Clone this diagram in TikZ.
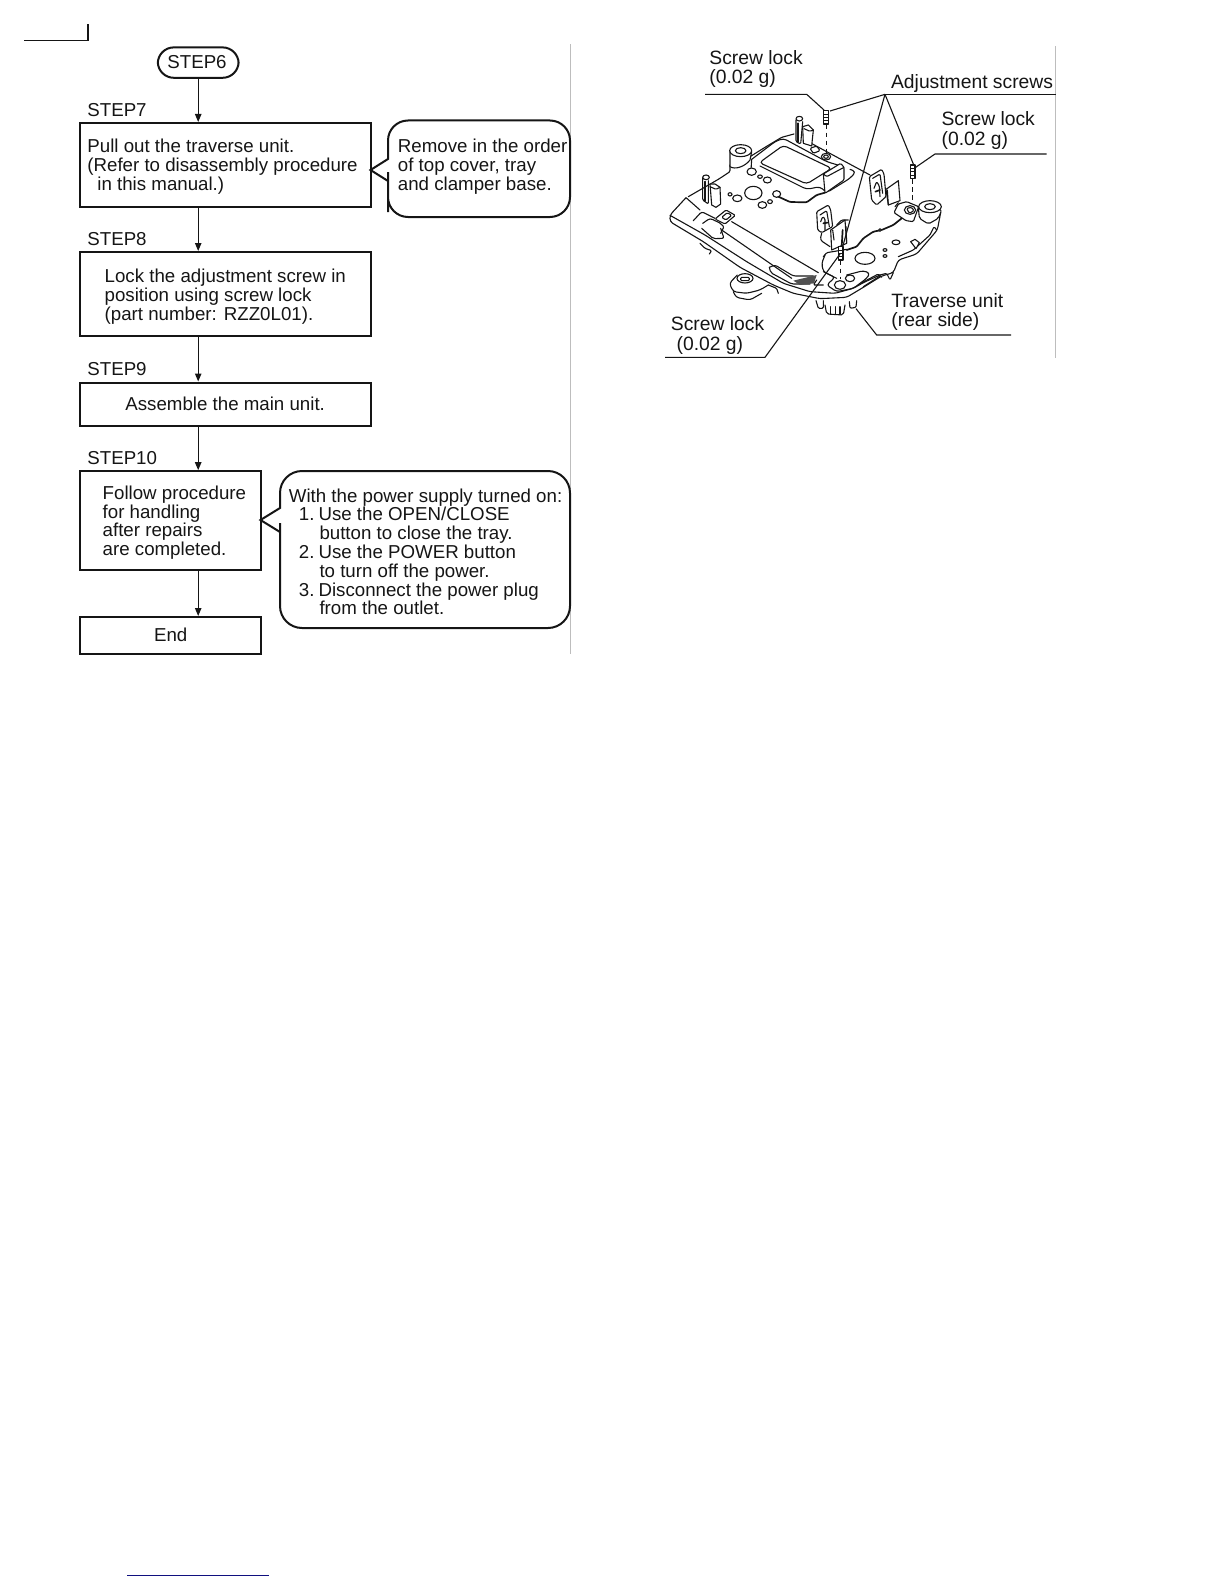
\documentclass[tikz,border=0pt]{standalone}
\usepackage{fontspec}
\setmainfont{Liberation Sans}
\usetikzlibrary{arrows.meta}
\definecolor{rule}{HTML}{BDBDBD}
\definecolor{ink}{HTML}{151515}
\definecolor{navyline}{HTML}{10107F}
\newcommand\ml[1]{\vtop{\baselineskip=9.4pt \lineskiplimit=-20pt \halign{##\hfil\cr#1\crcr}}}
\newcommand\litem[1]{\hspace*{5pt}\makebox[9.8pt][l]{#1}}
\newcommand\lcont{\hspace*{15.3pt}}
\tikzset{
  txt/.style={anchor=base west,inner sep=0pt,text=ink,font=\fontsize{9.35}{9.4}\selectfont},
  ltxt/.style={txt,font=\fontsize{9.65}{9.4}\selectfont},
  ctxt/.style={txt,anchor=base},
  boxa/.style={draw=ink,line width=1pt,anchor=north west,inner sep=0pt},
  pill/.style={draw=ink,line width=1pt,rounded corners=8pt,anchor=north west,inner sep=0pt},
  flow/.style={draw=ink,line width=.6pt,-{Triangle[length=4pt,width=3.2pt]}},
  callout/.style={draw=ink,line width=1pt,line join=miter},
  lead/.style={draw=ink,line width=.55pt},
  mech/.style={draw=ink,line width=.55pt,line join=round,line cap=round,fill=white},
  mline/.style={draw=ink,line width=.55pt,line join=round,line cap=round,rounded corners=.6pt},
  mthick/.style={draw=ink,line width=.85pt,line join=round,line cap=round,rounded corners=.6pt},
  dashline/.style={draw=ink,line width=.5pt,dash pattern=on 2.4pt off 1.6pt},
}
\begin{document}
\begin{tikzpicture}[x=.5pt,y=-.5pt]
\useasboundingbox (0,0) rectangle (1224,1584);
% page marks
\coordinate (m1) at (24,40.5); \coordinate (m2) at (88,40.5); \coordinate (m3) at (88,24.5);
\draw[draw=ink,line width=.55pt] (m1) -- (m2) -- (m3);
\coordinate (r1) at (570.5,44.5); \coordinate (r2) at (570.5,654);
\coordinate (r3) at (1055.5,46.5); \coordinate (r4) at (1055.5,357.5);
\draw[rule,line width=.6pt] (r1) -- (r2);
\draw[rule,line width=.6pt] (r3) -- (r4);
\coordinate (b1) at (127,1575.3); \coordinate (b2) at (269,1575.3);
\draw[navyline,line width=.75pt] (b1) -- (b2);

% flow boxes
\node[pill,minimum width=40.4pt,minimum height=15.2pt] (s6) at (156.8,46.4) {};
\node[ctxt] (s6t) at (197,68.3) {STEP6};
\node[boxa,minimum width=145.3pt,minimum height=42pt] (b7) at (79.2,122) {};
\node[boxa,minimum width=145.3pt,minimum height=42pt] (b8) at (79.2,251) {};
\node[boxa,minimum width=145.3pt,minimum height=21.5pt] (b9) at (79.2,381.5) {};
\node[boxa,minimum width=90.5pt,minimum height=49.4pt] (b10) at (79.2,470.2) {};
\node[boxa,minimum width=90.5pt,minimum height=18.6pt] (b11) at (79.2,616) {};
\draw[flow] (s6.south) -- (s6.south |- b7.north);
\draw[flow] (s6.south |- b7.south) -- (s6.south |- b8.north);
\draw[flow] (s6.south |- b8.south) -- (s6.south |- b9.north);
\draw[flow] (s6.south |- b9.south) -- (s6.south |- b10.north);
\draw[flow] (s6.south |- b10.south) -- (s6.south |- b11.north);
% callouts
\path[callout] (370.5,170) -- (388,159) -- (388,150) {[rounded corners=10pt] -- (388,120.5) -- (570,120.5) -- (570,217) -- (388,217) -- (388,192)} -- (388,181) -- cycle;
\path[callout] (260.5,520) -- (280,508) -- (280,500) {[rounded corners=11pt] -- (280,471) -- (570,471) -- (570,628) -- (280,628) -- (280,545)} -- (280,532) -- cycle;
% flow text
\node[txt] (t7) at (87,116.5) {STEP7};
\node[txt] (t8) at (87,245.7) {STEP8};
\node[txt] (t9) at (87,375.3) {STEP9};
\node[txt] (t10) at (87,464.3) {STEP10};
\node[txt] (x7) at (87,152.7) {\ml{Pull out the traverse unit.\cr(Refer to disassembly procedure\cr\hspace*{5pt}in this manual.)}};
\node[txt] (c7) at (397.5,152.7) {\ml{Remove in the order\cr of top cover, tray\cr and clamper base.}};
\node[txt] (x8) at (104.3,282.7) {\ml{Lock the adjustment screw in\cr position using screw lock\cr(part number: RZZ0L01).}};
\node[txt] (x9) at (125,410.3) {Assemble the main unit.};
\node[txt] (x10) at (102.3,499.3) {\ml{Follow procedure\cr for handling\cr after repairs\cr are completed.}};
\node[txt] (c10) at (288.5,502) {\ml{With the power supply turned on:\cr\litem{1.}Use the OPEN/CLOSE\cr\lcont button to close the tray.\cr\litem{2.}Use the POWER button\cr\lcont to turn off the power.\cr\litem{3.}Disconnect the power plug\cr\lcont from the outlet.}};
\node[ctxt] (x11) at (170.7,641.7) {End};

% mechanism labels
\node[ltxt] (l1) at (709,64.3) {Screw lock};
\node[ltxt] (l1b) at (709,83.6) {(0.02 g)};
\node[ltxt] (l2) at (890.7,88.3) {Adjustment screws};
\node[ltxt] (l3) at (941.2,126) {Screw lock};
\node[ltxt] (l3b) at (941.2,145.3) {(0.02 g)};
\node[ltxt] (l4) at (670.5,330) {Screw lock};
\node[ltxt] (l4b) at (676.2,350) {(0.02 g)};
\node[ltxt] (l5) at (891,307.7) {Traverse unit};
\node[ltxt] (l5b) at (891,326.7) {(rear side)};

% mechanism drawing, in 3x local units
\begin{scope}[shift={(650,30)},scale=.33333]
% plate back edges
\draw[mline] (115,500) -- (205,448);
\draw[mline] (205,448) -- (240,425) -- (240,405);
\draw[mline] (300,380) -- (345,352) -- (395,322) -- (432,312);
\draw[mline] (480,338) -- (660,435);
% rail body outer
\draw[mline,rounded corners=1.5pt] (108,503) -- (60,555) -- (60,575) -- (160,635) -- (270,712) -- (370,765) -- (430,790) -- (510,806) -- (590,802) -- (640,772) -- (695,738) -- (730,728) -- (745,690) -- (800,672) -- (862,600) -- (872,548);
\draw[mline,rounded corners=1pt] (60,556) -- (165,615) -- (290,695) -- (400,760) -- (480,785) -- (555,790) -- (610,775) -- (640,758) -- (690,735);
\draw[mline] (108,503) -- (150,540);
\draw[mline] (245,575) -- (505,728);
\draw[mline] (215,600) -- (425,745);
\draw[mline,rounded corners=1pt] (155,595) -- (190,626) -- (222,625) -- (212,595);
\draw[mline,rounded corners=1.2pt] (130,572) -- (155,545) -- (195,565);
\draw[mline,rounded corners=1.2pt] (158,580) -- (180,565) -- (212,580);
% bracket on rail
\path[mech,rounded corners=.6pt] (195,567) -- (228,540) -- (256,556) -- (225,582) -- cycle;
\draw[mline] (215,562) -- (232,548) -- (245,556) -- (228,570) -- cycle;
\draw[mline] (210,580) -- (222,590) -- (212,610);
% slot near front
\draw[mline,rounded corners=1.2pt] (358,712) -- (375,705) -- (430,738) -- (490,738);
\draw[mline,rounded corners=1pt] (358,712) -- (362,728) -- (425,762) -- (480,762);
\fill[ink!75] (430,752) -- (500,735) -- (492,760) -- (450,765) -- cycle;
\draw[mline] (520,765) -- (490,765) -- (500,750);
% lower notches
\draw[mline] (150,640) -- (165,655) -- (185,662) -- (178,672);
\draw[mline] (355,765) -- (380,775) -- (385,790);
% foot left
\draw[mech] (285,745) ellipse [x radius=24,y radius=14];
\draw[mline] (272,742) -- (298,742) -- (298,752) -- (272,752) -- cycle;
\draw[mline,rounded corners=1.5pt] (262,735) -- (238,760) -- (250,785) -- (290,790) -- (330,780) -- (355,765);
\draw[mline,rounded corners=1.5pt] (250,785) -- (258,802) -- (300,810) -- (335,790);
% gear at the rear
\draw[mline] (498,812) -- (505,835) -- (520,835) -- (520,812);
\draw[mline,rounded corners=1pt] (525,825) -- (530,852) -- (580,855) -- (585,825);
\draw[mline] (541,830) -- (541,853); \draw[mline] (556,830) -- (556,853); \draw[mline] (570,830) -- (570,853);
\draw[mline] (598,815) -- (600,835) -- (618,832) -- (620,812);
% left tall post
\draw[mline] (158,445) -- (158,510) -- (175,522) -- (175,452);
\draw[mech] (168,442) ellipse [x radius=10,y radius=7];
\draw[mthick] (165,455) -- (165,512);
\draw[mech] (180,462) -- (185,525) -- (198,532) -- (212,522) -- (210,472) -- (195,462) -- cycle;
\draw[mline] (180,470) -- (198,478) -- (210,472);
% cylinder back-left
\path[mech] (240,365) -- (240,410) .. controls (255,420) and (285,410) .. (300,390) -- (305,365) -- cycle;
\draw[mech] (272,362) ellipse [x radius=33,y radius=18];
\draw[mech] (272,362) ellipse [x radius=16,y radius=9];
% top right post
\draw[mline] (438,270) -- (438,335) -- (452,342) -- (458,275);
\draw[mech] (448,266) ellipse [x radius=10,y radius=7];
\draw[mthick] (445,280) -- (445,335);
\path[mech] (458,290) -- (460,340) -- (485,348) -- (490,300) -- (475,285) -- cycle;
\draw[mline] (462,296) -- (480,304) -- (490,300);
% window frame
\draw[mline,rounded corners=1.8pt] (328,398) -- (400,346) -- (545,415) -- (470,462) -- cycle;
\draw[mline,rounded corners=1.8pt] (305,388) -- (375,335) -- (400,325) -- (530,395) -- (580,410);
\draw[mline,rounded corners=1.8pt] (330,408) -- (470,478) -- (510,470) -- (530,488) -- (600,445) -- (618,425) -- (600,418);
\draw[mline] (305,388) -- (303,420);
% front-right screw seat
\draw[mech] (528,380) ellipse [x radius=14,y radius=10];
\draw[mech] (528,380) ellipse [x radius=7,y radius=5];
\draw[mline] (480,355) -- (500,348) -- (510,362) -- (490,370) -- cycle;
% tab
\path[mech,rounded corners=.6pt] (520,432) -- (572,400) -- (582,412) -- (582,450) -- (525,490) -- cycle;
\draw[mline] (520,432) -- (530,440) -- (582,412);
% circles
\foreach \cx/\cy/\rx/\ry in {305/425/14/11,330/440/7/5,352/450/12/9,310/489/26/20,262/505/14/10,240/493/6/5,337/525/13/10,360/515/7/6,380/492/12/10}
  \draw[mech] (\cx,\cy) ellipse [x radius=\rx,y radius=\ry];
% wire
\draw[mthick] (385,500) -- (420,516) -- (470,517) -- (500,495) -- (525,488);
% center bracket
\path[mech,rounded corners=.6pt] (500,545) -- (535,525) -- (542,540) -- (548,590) -- (515,608) -- (503,600) -- cycle;
\draw[mline] (510,555) -- (530,542) -- (538,590);
\draw[mline] (512,575) -- (518,560) -- (525,566) -- (525,600);
\draw[mthick] (520,580) -- (532,578);
\path[mech] (542,600) -- (585,570) -- (590,640) -- (545,660) -- cycle;
\draw[mline] (560,585) -- (575,570) -- (595,570);
\draw[mline] (548,600) -- (552,630);
\draw[mthick] (578,600) -- (575,650); \draw[mline] (588,590) -- (590,640);
\draw[mline,rounded corners=1.5pt] (515,610) -- (510,630) -- (540,650);
% right bracket
\path[mech,rounded corners=.6pt] (658,440) -- (695,418) -- (702,432) -- (708,500) -- (680,525) -- (665,510) -- cycle;
\draw[mline] (668,445) -- (690,432) -- (698,490);
\draw[mline] (672,475) -- (680,455) -- (688,468) -- (690,500);
\draw[mthick] (676,485) -- (690,480);
\path[mech] (708,478) -- (745,452) -- (750,512) -- (715,525) -- cycle;
\draw[mline] (712,480) -- (715,525);
% right mount and post
\path[mech,rounded corners=.6pt] (732,548) -- (745,522) -- (770,515) -- (806,530) -- (790,575) -- (768,572) -- cycle;
\draw[mech] (780,540) ellipse [x radius=17,y radius=13];
\draw[mline] (770,535) -- (785,532) -- (792,542) -- (778,550) -- cycle;
\path[mech,rounded corners=1pt] (805,530) -- (808,565) -- (835,582) -- (865,565) -- (875,540) -- cycle;
\draw[mech] (840,530) ellipse [x radius=34,y radius=18];
\draw[mech] (840,530) ellipse [x radius=16,y radius=9];
\draw[mline] (745,518) -- (735,530);
% lower plate right
\draw[mline] (860,600) -- (852,590) -- (840,615) -- (790,660) -- (745,680);
\draw[mthick] (755,565) -- (730,585) -- (695,600) -- (670,605) -- (640,625) -- (620,650) -- (590,660);
\draw[mline] (520,680) -- (530,668) -- (590,658);
\draw[mech] (690,600) circle [radius=4];
\draw[mech] (645,685) ellipse [x radius=30,y radius=18];
\draw[mech] (705,660) ellipse [x radius=6,y radius=4];
\draw[mech] (705,678) ellipse [x radius=6,y radius=4];
\draw[mech] (738,637) ellipse [x radius=12,y radius=7];
\path[mech] (782,635) -- (795,628) -- (808,638) -- (798,656) -- cycle;
% screw seat center
\draw[mline,rounded corners=1.5pt] (525,675) -- (515,700) -- (520,725) -- (555,742) -- (530,765) -- (560,785) -- (610,775) -- (650,745) -- (660,730) -- (640,722) -- (590,735);
\draw[mline] (520,725) -- (560,745);
\draw[mech] (570,765) ellipse [x radius=17,y radius=13];
\draw[mech] (600,745) ellipse [x radius=14,y radius=10];
\draw[mline] (640,770) -- (690,738);
\draw[mline] (632,760) -- (685,732) -- (695,742);
\draw[mline] (690,735) -- (710,730) -- (720,750) -- (730,728);
% screws (threaded studs)
\foreach \sx/\sy in {528/242,788/405,572/650}{
  \path[mech] (\sx-7,\sy) -- (\sx+7,\sy) -- (\sx+7,\sy+40) -- (\sx-7,\sy+40) -- cycle;
  \fill[ink] (\sx-7,\sy+9) rectangle (\sx+7,\sy+11.5);
  \fill[ink] (\sx-7,\sy+19) rectangle (\sx+7,\sy+21.5);
  \fill[ink] (\sx-7,\sy+29) rectangle (\sx+7,\sy+31.5);
}
\draw[dashline] (528,284) -- (528,372);
\draw[dashline] (786,447) -- (786,512);
\draw[dashline] (572,692) -- (572,748);
% leaders
\coordinate (a0) at (705,193);
\coordinate (a1) at (1217,193);
\draw[lead] (a0) -- (a1);
\draw[lead] (a0) -- (540,243);
\draw[lead] (a0) -- (578,650);
\draw[lead] (a0) -- (790,402);
\coordinate (k1) at (165,193); \coordinate (k2) at (470,193); \coordinate (k3) at (522,240);
\draw[lead] (k1) -- (k2) -- (k3);
\coordinate (k4) at (1190,372); \coordinate (k5) at (855,372); \coordinate (k6) at (797,412);
\draw[lead] (k4) -- (k5) -- (k6);
\coordinate (k7) at (45,982); \coordinate (k8) at (345,982); \coordinate (k9) at (570,672);
\draw[lead] (k7) -- (k8) -- (k9);
\coordinate (k10) at (1083,915); \coordinate (k11) at (680,915); \coordinate (k12) at (618,836);
\draw[lead] (k10) -- (k11) -- (k12);
\end{scope}
\end{tikzpicture}
\end{document}
